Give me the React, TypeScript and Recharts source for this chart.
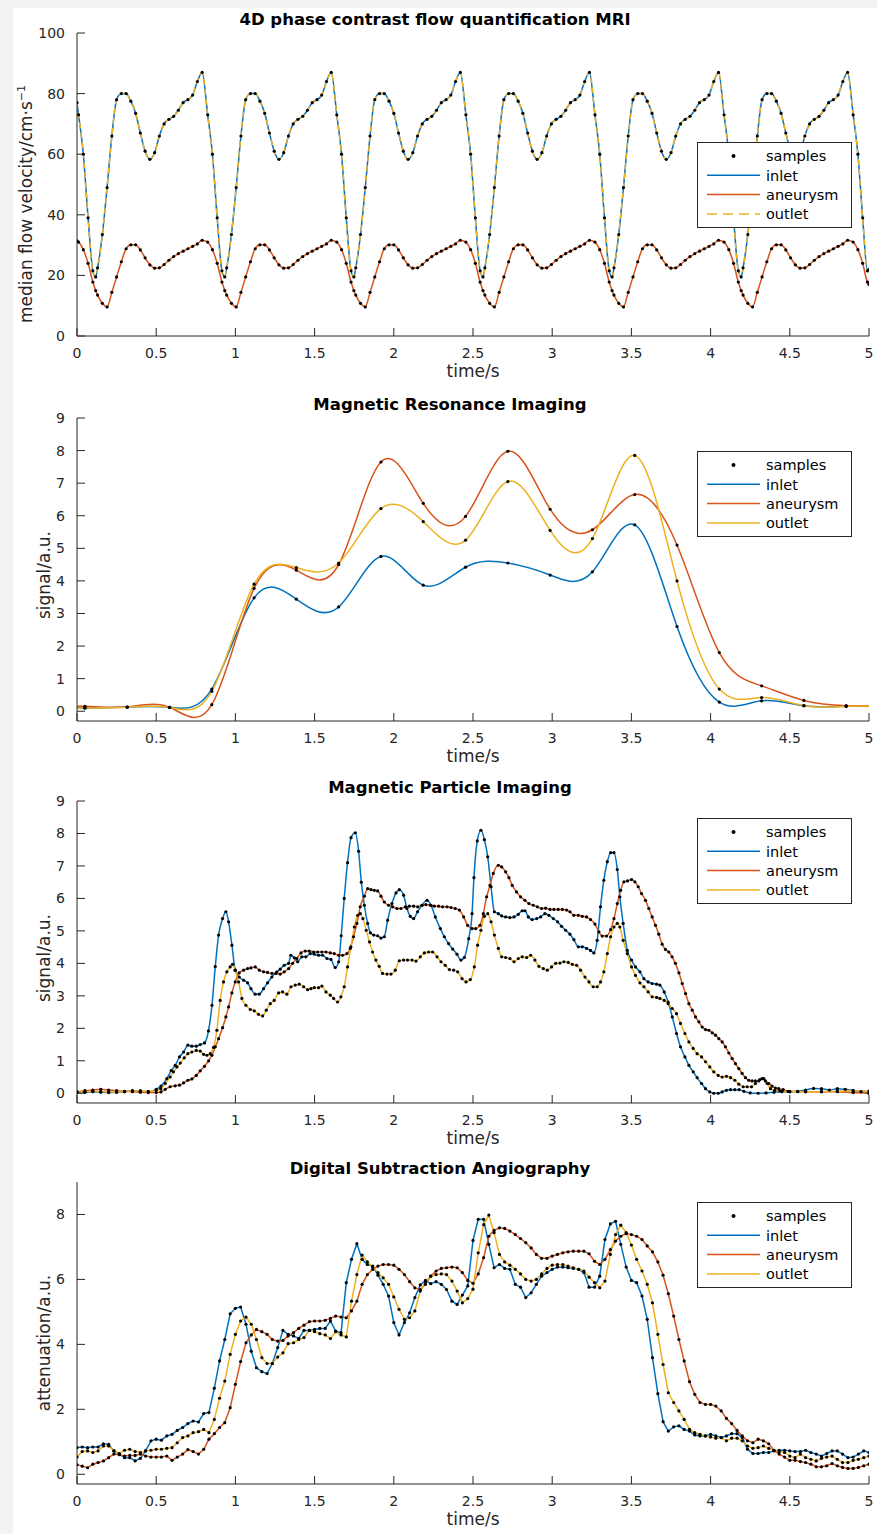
import React from 'react';
import { LineChart, Line, XAxis, YAxis } from 'recharts';

const FONT = '"DejaVu Sans", "Liberation Sans", sans-serif';
const INK = '#262626';
const BLUE = '#0072BD';
const RED = '#D95319';
const YELLOW = '#EDB120';
const W = 877;
const H = 1534;
const PLOT_LEFT = 77;
const RIGHT_GAP = 8;
const TOP_GAP = 20;
const XAXIS_H = 50;

const TIME_TICKS = [0, 0.5, 1, 1.5, 2, 2.5, 3, 3.5, 4, 4.5, 5];
const FLOW_TICKS = [0, 20, 40, 60, 80, 100];
const SIGNAL_TICKS = [0, 1, 2, 3, 4, 5, 6, 7, 8, 9];
const ATTEN_TICKS = [0, 2, 4, 6, 8];
const SERIES_NAMES = ['inlet', 'aneurysm', 'outlet'];

// ---------- Panel 1: 4D phase contrast flow quantification MRI ----------
const flowTime = [0,
  0.01, 0.04, 0.07, 0.1, 0.118, 0.13, 0.16, 0.19, 0.22, 0.25, 0.28, 0.31, 0.34, 0.37, 0.4, 0.43, 0.46, 0.49, 0.52, 0.55, 0.58, 0.61, 0.64, 0.67, 0.7, 0.73, 0.76, 0.79,
  0.825, 0.855, 0.885, 0.915, 0.933, 0.945, 0.975, 1.005, 1.035, 1.065, 1.095, 1.125, 1.155, 1.185, 1.215, 1.245, 1.275, 1.305, 1.335, 1.365, 1.395, 1.425, 1.455, 1.485, 1.515, 1.545, 1.575, 1.605,
  1.64, 1.67, 1.7, 1.73, 1.748, 1.76, 1.79, 1.82, 1.85, 1.88, 1.91, 1.94, 1.97, 2, 2.03, 2.06, 2.09, 2.12, 2.15, 2.18, 2.21, 2.24, 2.27, 2.3, 2.33, 2.36, 2.39, 2.42,
  2.455, 2.485, 2.515, 2.545, 2.563, 2.575, 2.605, 2.635, 2.665, 2.695, 2.725, 2.755, 2.785, 2.815, 2.845, 2.875, 2.905, 2.935, 2.965, 2.995, 3.025, 3.055, 3.085, 3.115, 3.145, 3.175, 3.205, 3.235,
  3.27, 3.3, 3.33, 3.36, 3.378, 3.39, 3.42, 3.45, 3.48, 3.51, 3.54, 3.57, 3.6, 3.63, 3.66, 3.69, 3.72, 3.75, 3.78, 3.81, 3.84, 3.87, 3.9, 3.93, 3.96, 3.99, 4.02, 4.05,
  4.085, 4.115, 4.145, 4.175, 4.193, 4.205, 4.235, 4.265, 4.295, 4.325, 4.355, 4.385, 4.415, 4.445, 4.475, 4.505, 4.535, 4.565, 4.595, 4.625, 4.655, 4.685, 4.715, 4.745, 4.775, 4.805, 4.835, 4.865,
  4.9, 4.93, 4.96, 4.99, 5];

const flowInlet = [77,
  73, 60, 39, 21.5, 19.5, 22.5, 33.5, 49, 66, 78, 80, 80, 77.5, 73.5, 67, 61, 58.3, 60.5, 66, 70, 71.5, 72.5, 74.5, 77, 78, 79.5, 84, 87,
  73, 60, 39, 21.5, 19.5, 22.5, 33.5, 49, 66, 78, 80, 80, 77.5, 73.5, 67, 61, 58.3, 60.5, 66, 70, 71.5, 72.5, 74.5, 77, 78, 79.5, 84, 87,
  73, 60, 39, 21.5, 19.5, 22.5, 33.5, 49, 66, 78, 80, 80, 77.5, 73.5, 67, 61, 58.3, 60.5, 66, 70, 71.5, 72.5, 74.5, 77, 78, 79.5, 84, 87,
  73, 60, 39, 21.5, 19.5, 22.5, 33.5, 49, 66, 78, 80, 80, 77.5, 73.5, 67, 61, 58.3, 60.5, 66, 70, 71.5, 72.5, 74.5, 77, 78, 79.5, 84, 87,
  73, 60, 39, 21.5, 19.5, 22.5, 33.5, 49, 66, 78, 80, 80, 77.5, 73.5, 67, 61, 58.3, 60.5, 66, 70, 71.5, 72.5, 74.5, 77, 78, 79.5, 84, 87,
  73, 60, 39, 21.5, 19.5, 22.5, 33.5, 49, 66, 78, 80, 80, 77.5, 73.5, 67, 61, 58.3, 60.5, 66, 70, 71.5, 72.5, 74.5, 77, 78, 79.5, 84, 87,
  73, 60, 39, 21.5, 22];

const flowAneurysm = [31.4,
  31, 28.5, 24, 17.8, 15, 13.5, 10.8, 9.6, 14.4, 19.5, 24.5, 28.8, 30.1, 30.1, 28.4, 25.8, 23.5, 22.4, 22.5, 23.6, 25, 26.2, 27.2, 28, 28.8, 29.6, 30.4, 31.6,
  31, 28.5, 24, 17.8, 15, 13.5, 10.8, 9.6, 14.4, 19.5, 24.5, 28.8, 30.1, 30.1, 28.4, 25.8, 23.5, 22.4, 22.5, 23.6, 25, 26.2, 27.2, 28, 28.8, 29.6, 30.4, 31.6,
  31, 28.5, 24, 17.8, 15, 13.5, 10.8, 9.6, 14.4, 19.5, 24.5, 28.8, 30.1, 30.1, 28.4, 25.8, 23.5, 22.4, 22.5, 23.6, 25, 26.2, 27.2, 28, 28.8, 29.6, 30.4, 31.6,
  31, 28.5, 24, 17.8, 15, 13.5, 10.8, 9.6, 14.4, 19.5, 24.5, 28.8, 30.1, 30.1, 28.4, 25.8, 23.5, 22.4, 22.5, 23.6, 25, 26.2, 27.2, 28, 28.8, 29.6, 30.4, 31.6,
  31, 28.5, 24, 17.8, 15, 13.5, 10.8, 9.6, 14.4, 19.5, 24.5, 28.8, 30.1, 30.1, 28.4, 25.8, 23.5, 22.4, 22.5, 23.6, 25, 26.2, 27.2, 28, 28.8, 29.6, 30.4, 31.6,
  31, 28.5, 24, 17.8, 15, 13.5, 10.8, 9.6, 14.4, 19.5, 24.5, 28.8, 30.1, 30.1, 28.4, 25.8, 23.5, 22.4, 22.5, 23.6, 25, 26.2, 27.2, 28, 28.8, 29.6, 30.4, 31.6,
  31, 28.5, 24, 17.8, 17];

const flowOutlet = flowInlet;

// ---------- Panel 2: Magnetic Resonance Imaging ----------
const mriTime = [0.05, 0.317, 0.584, 0.851, 1.118, 1.385, 1.652, 1.919, 2.186, 2.453, 2.72, 2.987, 3.254, 3.521, 3.788, 4.055, 4.322, 4.589, 4.856];
const mriInlet = [0.1, 0.13, 0.12, 0.68, 3.48, 3.44, 3.2, 4.75, 3.87, 4.42, 4.55, 4.18, 4.28, 5.72, 2.6, 0.28, 0.32, 0.17, 0.15];
const mriAneurysm = [0.15, 0.13, 0.12, 0.2, 3.77, 4.33, 4.5, 7.65, 6.38, 5.98, 7.98, 6.2, 5.57, 6.65, 5.1, 1.8, 0.78, 0.33, 0.17];
const mriOutlet = [0.1, 0.12, 0.12, 0.61, 3.9, 4.41, 4.55, 6.22, 5.82, 5.25, 7.05, 5.55, 5.3, 7.85, 4.0, 0.68, 0.42, 0.17, 0.15];
// curve continuation just outside the visible time range (one sample step each side)
const mriEdgeTime = [-0.217, 5.123];
const mriInletEdge = [0.1, 0.15];
const mriAneurysmEdge = [0.15, 0.17];
const mriOutletEdge = [0.1, 0.15];

// ---------- Panel 3: Magnetic Particle Imaging ----------
const mpiInlet: [number, number][] = [
  [0, 0.02], [0.05, 0.03], [0.1, 0.05], [0.15, 0.03], [0.2, 0.02], [0.25, 0.03], [0.3, 0.05], [0.35, 0.08], [0.4, 0.06], [0.45, 0.05],
  [0.5, 0.12], [0.53, 0.22], [0.567, 0.45], [0.595, 0.7], [0.62, 0.86], [0.647, 1.12], [0.673, 1.27], [0.7, 1.48], [0.725, 1.45], [0.753, 1.45],
  [0.778, 1.5], [0.805, 1.55], [0.83, 1.92], [0.852, 2.71], [0.873, 3.9], [0.894, 4.87], [0.919, 5.38], [0.94, 5.59], [0.957, 5.28], [0.978, 4.56],
  [0.999, 3.79], [1.024, 3.58], [1.052, 3.48], [1.077, 3.4], [1.098, 3.22], [1.125, 3.05], [1.15, 3.05], [1.178, 3.22], [1.203, 3.4], [1.23, 3.58],
  [1.262, 3.74], [1.283, 3.82], [1.308, 3.94], [1.336, 4.0], [1.35, 4.25], [1.372, 4.17], [1.393, 4.05], [1.42, 4.2], [1.445, 4.2], [1.473, 4.3],
  [1.498, 4.28], [1.525, 4.25], [1.55, 4.25], [1.578, 4.15], [1.603, 4.12], [1.63, 3.87], [1.652, 4.05], [1.668, 4.85], [1.687, 6.0], [1.708, 7.1],
  [1.73, 7.87], [1.757, 8.02], [1.778, 7.45], [1.795, 6.5], [1.814, 5.79], [1.835, 5.23], [1.852, 4.94], [1.873, 4.87], [1.898, 4.85], [1.919, 4.78],
  [1.94, 4.82], [1.961, 5.33], [1.988, 5.84], [2.014, 6.17], [2.035, 6.27], [2.062, 6.1], [2.083, 5.69], [2.104, 5.45], [2.125, 5.38], [2.15, 5.59],
  [2.178, 5.79], [2.21, 5.94], [2.235, 5.79], [2.262, 5.43], [2.294, 5.07], [2.319, 4.82], [2.346, 4.61], [2.372, 4.44], [2.399, 4.28], [2.424, 4.1],
  [2.445, 4.18], [2.473, 4.76], [2.494, 5.53], [2.506, 6.64], [2.527, 7.77], [2.55, 8.1], [2.572, 7.81], [2.593, 7.28], [2.614, 6.36], [2.635, 5.59],
  [2.66, 5.53], [2.681, 5.46], [2.706, 5.43], [2.733, 5.41], [2.759, 5.43], [2.786, 5.51], [2.811, 5.62], [2.828, 5.62], [2.849, 5.43], [2.874, 5.35],
  [2.902, 5.38], [2.927, 5.43], [2.954, 5.53], [2.979, 5.48], [3.007, 5.38], [3.034, 5.28], [3.059, 5.14], [3.085, 5.02], [3.112, 4.9], [3.137, 4.73],
  [3.165, 4.51], [3.19, 4.51], [3.217, 4.46], [3.242, 4.4], [3.263, 4.32], [3.284, 4.71], [3.305, 5.74], [3.326, 6.56], [3.348, 7.13], [3.369, 7.41],
  [3.39, 7.41], [3.411, 6.89], [3.427, 6.05], [3.448, 5.23], [3.474, 4.4], [3.501, 4.1], [3.526, 3.89], [3.554, 3.74], [3.579, 3.53], [3.606, 3.43],
  [3.631, 3.38], [3.659, 3.36], [3.68, 3.33], [3.707, 3.12], [3.732, 2.81], [3.758, 2.35], [3.785, 1.84], [3.81, 1.43], [3.838, 1.12], [3.863, 0.86],
  [3.89, 0.66], [3.915, 0.48], [3.943, 0.3], [3.968, 0.14], [3.995, 0.04], [4.02, 0], [4.048, 0], [4.073, 0.04], [4.1, 0.09], [4.126, 0.11],
  [4.153, 0.11], [4.18, 0.11], [4.21, 0.06], [4.25, 0.01], [4.3, 0], [4.35, 0.01], [4.4, 0.03], [4.45, 0.05], [4.5, 0.05], [4.55, 0.06],
  [4.6, 0.1], [4.65, 0.15], [4.7, 0.14], [4.75, 0.1], [4.8, 0.14], [4.85, 0.12], [4.9, 0.08], [4.95, 0.05], [5, 0]];

const mpiAneurysm: [number, number][] = [
  [0, 0.05], [0.05, 0.08], [0.1, 0.1], [0.15, 0.12], [0.2, 0.1], [0.25, 0.08], [0.3, 0.06], [0.35, 0.05], [0.4, 0.03], [0.45, 0.02],
  [0.5, 0.02], [0.53, 0.04], [0.557, 0.12], [0.588, 0.2], [0.62, 0.23], [0.647, 0.25], [0.673, 0.32], [0.7, 0.4], [0.725, 0.44], [0.753, 0.55],
  [0.778, 0.69], [0.805, 0.83], [0.831, 1.0], [0.852, 1.17], [0.873, 1.43], [0.894, 1.68], [0.919, 2.02], [0.94, 2.35], [0.957, 2.66], [0.978, 3.09],
  [0.999, 3.43], [1.024, 3.71], [1.052, 3.79], [1.077, 3.84], [1.098, 3.86], [1.125, 3.89], [1.151, 3.79], [1.178, 3.74], [1.203, 3.72], [1.231, 3.69],
  [1.256, 3.69], [1.283, 3.67], [1.308, 3.74], [1.336, 3.84], [1.361, 4.0], [1.388, 4.15], [1.414, 4.32], [1.441, 4.38], [1.466, 4.38], [1.494, 4.35],
  [1.519, 4.35], [1.546, 4.35], [1.572, 4.35], [1.599, 4.32], [1.624, 4.3], [1.652, 4.25], [1.677, 4.25], [1.704, 4.3], [1.725, 4.46], [1.746, 4.82],
  [1.767, 5.23], [1.788, 5.74], [1.814, 6.07], [1.835, 6.3], [1.856, 6.27], [1.877, 6.25], [1.898, 6.23], [1.919, 6.07], [1.94, 5.89], [1.967, 5.79],
  [1.993, 5.74], [2.02, 5.69], [2.045, 5.69], [2.073, 5.74], [2.098, 5.76], [2.125, 5.76], [2.151, 5.74], [2.178, 5.79], [2.203, 5.81], [2.231, 5.79],
  [2.256, 5.76], [2.283, 5.76], [2.308, 5.74], [2.336, 5.74], [2.361, 5.72], [2.388, 5.69], [2.414, 5.64], [2.441, 5.43], [2.466, 5.17], [2.494, 5.07],
  [2.517, 5.07], [2.544, 5.17], [2.565, 5.53], [2.586, 6.05], [2.607, 6.4], [2.628, 6.77], [2.66, 7.02], [2.681, 6.97], [2.706, 6.82], [2.727, 6.64],
  [2.748, 6.4], [2.775, 6.2], [2.8, 6.05], [2.828, 5.94], [2.853, 5.84], [2.881, 5.79], [2.906, 5.74], [2.933, 5.69], [2.958, 5.7], [2.986, 5.66],
  [3.011, 5.66], [3.038, 5.66], [3.064, 5.66], [3.091, 5.64], [3.112, 5.59], [3.137, 5.48], [3.165, 5.48], [3.19, 5.45], [3.217, 5.43], [3.242, 5.35],
  [3.27, 5.21], [3.295, 4.97], [3.316, 4.84], [3.343, 4.84], [3.369, 5.04], [3.39, 5.38], [3.411, 5.84], [3.432, 6.25], [3.453, 6.51], [3.476, 6.54],
  [3.501, 6.58], [3.522, 6.51], [3.543, 6.36], [3.564, 6.15], [3.589, 5.94], [3.61, 5.69], [3.631, 5.43], [3.652, 5.17], [3.673, 4.9], [3.694, 4.59],
  [3.715, 4.43], [3.736, 4.35], [3.757, 4.2], [3.778, 4.0], [3.8, 3.71], [3.821, 3.38], [3.842, 3.07], [3.863, 2.76], [3.884, 2.56], [3.905, 2.35],
  [3.926, 2.2], [3.947, 2.04], [3.968, 1.96], [3.989, 1.94], [4.01, 1.86], [4.031, 1.79], [4.052, 1.68], [4.073, 1.58], [4.094, 1.43], [4.115, 1.24],
  [4.136, 1.07], [4.157, 0.91], [4.178, 0.76], [4.199, 0.61], [4.22, 0.48], [4.241, 0.4], [4.262, 0.38], [4.283, 0.38], [4.304, 0.38], [4.325, 0.45],
  [4.346, 0.38], [4.367, 0.3], [4.388, 0.22], [4.409, 0.16], [4.43, 0.14], [4.458, 0.11], [4.489, 0.06], [4.55, 0.05], [4.6, 0.05], [4.7, 0.05],
  [4.8, 0.05], [4.9, 0.02], [5, 0]];

const mpiOutlet: [number, number][] = [
  [0, 0.03], [0.05, 0.05], [0.1, 0.06], [0.15, 0.05], [0.2, 0.04], [0.25, 0.04], [0.3, 0.05], [0.35, 0.07], [0.4, 0.08], [0.45, 0.05],
  [0.5, 0.09], [0.529, 0.14], [0.557, 0.3], [0.588, 0.5], [0.609, 0.66], [0.631, 0.81], [0.652, 0.93], [0.677, 1.09], [0.7, 1.22], [0.725, 1.27],
  [0.753, 1.32], [0.778, 1.3], [0.799, 1.2], [0.82, 1.17], [0.841, 1.22], [0.862, 1.41], [0.883, 1.94], [0.904, 2.86], [0.925, 3.43], [0.946, 3.74],
  [0.967, 3.89], [0.982, 3.97], [0.999, 3.79], [1.02, 3.43], [1.041, 2.92], [1.066, 2.71], [1.094, 2.58], [1.119, 2.54], [1.146, 2.43], [1.172, 2.38],
  [1.195, 2.56], [1.22, 2.76], [1.245, 2.86], [1.273, 3.09], [1.298, 3.12], [1.325, 3.05], [1.351, 3.28], [1.378, 3.33], [1.403, 3.36], [1.431, 3.28],
  [1.456, 3.19], [1.477, 3.22], [1.498, 3.25], [1.525, 3.25], [1.546, 3.3], [1.572, 3.12], [1.599, 3.02], [1.62, 2.92], [1.645, 2.81], [1.666, 2.97],
  [1.687, 3.28], [1.708, 3.89], [1.729, 4.51], [1.751, 5.12], [1.772, 5.48], [1.788, 5.53], [1.805, 5.38], [1.826, 5.02], [1.847, 4.66], [1.866, 4.35],
  [1.887, 4.1], [1.908, 3.91], [1.929, 3.69], [1.957, 3.67], [1.982, 3.67], [2.009, 3.79], [2.035, 4.08], [2.062, 4.1], [2.087, 4.1], [2.115, 4.1],
  [2.14, 4.07], [2.167, 4.2], [2.193, 4.32], [2.22, 4.35], [2.245, 4.35], [2.273, 4.2], [2.298, 4.05], [2.325, 3.94], [2.351, 3.81], [2.378, 3.79],
  [2.403, 3.74], [2.431, 3.53], [2.456, 3.43], [2.483, 3.5], [2.508, 3.89], [2.529, 4.56], [2.55, 5.02], [2.572, 5.45], [2.593, 5.53], [2.614, 5.28],
  [2.635, 4.87], [2.66, 4.46], [2.681, 4.2], [2.706, 4.18], [2.733, 4.15], [2.759, 4.05], [2.786, 4.15], [2.811, 4.2], [2.839, 4.18], [2.864, 4.25],
  [2.891, 4.1], [2.916, 3.91], [2.944, 3.84], [2.969, 3.79], [2.996, 3.89], [3.022, 4.0], [3.049, 4.01], [3.074, 4.05], [3.101, 4.03], [3.127, 3.97],
  [3.154, 3.94], [3.179, 3.79], [3.207, 3.58], [3.232, 3.43], [3.259, 3.28], [3.284, 3.28], [3.305, 3.43], [3.326, 3.74], [3.348, 4.3], [3.369, 4.82],
  [3.39, 5.12], [3.411, 5.23], [3.427, 5.12], [3.448, 4.71], [3.474, 4.3], [3.501, 3.89], [3.526, 3.63], [3.554, 3.4], [3.579, 3.28], [3.606, 3.12],
  [3.631, 2.97], [3.659, 2.95], [3.68, 2.92], [3.707, 2.86], [3.732, 2.76], [3.758, 2.61], [3.785, 2.45], [3.81, 2.15], [3.838, 1.84], [3.863, 1.58],
  [3.89, 1.38], [3.915, 1.22], [3.943, 1.12], [3.968, 0.97], [3.995, 0.81], [4.02, 0.66], [4.048, 0.55], [4.073, 0.5], [4.1, 0.52], [4.126, 0.48],
  [4.153, 0.4], [4.178, 0.28], [4.206, 0.2], [4.231, 0.2], [4.258, 0.2], [4.283, 0.3], [4.311, 0.42], [4.336, 0.45], [4.357, 0.3], [4.378, 0.14],
  [4.405, 0.09], [4.437, 0.07], [4.5, 0.05], [4.6, 0.05], [4.7, 0.05], [4.8, 0.06], [4.9, 0.08], [5, 0.07]];

// ---------- Panel 4: Digital Subtraction Angiography ----------
const dsaTime = [
  0, 0.033, 0.067, 0.1, 0.133, 0.167, 0.2, 0.233, 0.267, 0.3,
  0.333, 0.367, 0.4, 0.433, 0.467, 0.5, 0.533, 0.567, 0.6, 0.633,
  0.667, 0.7, 0.733, 0.767, 0.8, 0.833, 0.867, 0.9, 0.933, 0.967,
  1, 1.033, 1.067, 1.1, 1.133, 1.167, 1.2, 1.233, 1.267, 1.3,
  1.333, 1.367, 1.4, 1.433, 1.467, 1.5, 1.533, 1.567, 1.6, 1.633,
  1.667, 1.7, 1.733, 1.767, 1.8, 1.833, 1.867, 1.9, 1.933, 1.967,
  2, 2.033, 2.067, 2.1, 2.133, 2.167, 2.2, 2.233, 2.267, 2.3,
  2.333, 2.367, 2.4, 2.433, 2.467, 2.5, 2.533, 2.567, 2.6, 2.633,
  2.667, 2.7, 2.733, 2.767, 2.8, 2.833, 2.867, 2.9, 2.933, 2.967,
  3, 3.033, 3.067, 3.1, 3.133, 3.167, 3.2, 3.233, 3.267, 3.3,
  3.333, 3.367, 3.4, 3.433, 3.467, 3.5, 3.533, 3.567, 3.6, 3.633,
  3.667, 3.7, 3.733, 3.767, 3.8, 3.833, 3.867, 3.9, 3.933, 3.967,
  4, 4.033, 4.067, 4.1, 4.133, 4.167, 4.2, 4.233, 4.267, 4.3,
  4.333, 4.367, 4.4, 4.433, 4.467, 4.5, 4.533, 4.567, 4.6, 4.633,
  4.667, 4.7, 4.733, 4.767, 4.8, 4.833, 4.867, 4.9, 4.933, 4.967,
  5];

const dsaInlet = [
  0.82, 0.84, 0.82, 0.84, 0.84, 0.94, 0.92, 0.72, 0.62, 0.51,
  0.51, 0.41, 0.49, 0.72, 1.03, 1.08, 1.05, 1.18, 1.23, 1.35,
  1.44, 1.56, 1.64, 1.61, 1.87, 1.9, 2.65, 3.49, 4.15, 4.94,
  5.11, 5.15, 4.62, 3.79, 3.28, 3.16, 3.1, 3.41, 3.9, 4.43,
  4.31, 4.26, 4.18, 4.43, 4.43, 4.46, 4.49, 4.49, 4.72, 4.41,
  4.36, 5.9, 6.62, 7.1, 6.62, 6.46, 6.41, 6.13, 5.85, 5.49,
  4.67, 4.29, 4.67, 4.97, 5.44, 5.83, 5.97, 5.87, 5.93, 5.85,
  5.69, 5.33, 5.23, 5.52, 5.8, 7.2, 7.85, 7.85, 7.08, 6.36,
  6.46, 6.34, 6.31, 5.85, 5.76, 5.44, 5.59, 5.85, 6.1, 6.21,
  6.31, 6.38, 6.38, 6.36, 6.34, 6.31, 6.21, 5.76, 5.76, 6.1,
  7.23, 7.71, 7.79, 7.08, 6.38, 5.97, 5.9, 5.49, 4.77, 3.59,
  2.48, 1.62, 1.33, 1.46, 1.49, 1.38, 1.33, 1.21, 1.18, 1.18,
  1.23, 1.18, 1.13, 1.18, 1.25, 1.25, 1.13, 0.77, 0.64, 0.64,
  0.67, 0.67, 0.72, 0.74, 0.74, 0.72, 0.7, 0.7, 0.74, 0.67,
  0.62, 0.56, 0.64, 0.72, 0.72, 0.62, 0.51, 0.53, 0.62, 0.72,
  0.67];

const dsaAneurysm = [
  0.29, 0.25, 0.2, 0.31, 0.36, 0.41, 0.51, 0.62, 0.6, 0.56,
  0.58, 0.58, 0.62, 0.56, 0.53, 0.53, 0.53, 0.56, 0.43, 0.53,
  0.62, 0.76, 0.7, 0.62, 0.77, 1.08, 1.25, 1.44, 1.59, 2.05,
  2.77, 3.47, 4.05, 4.29, 4.46, 4.39, 4.31, 4.15, 4.1, 4.12,
  4.26, 4.36, 4.49, 4.59, 4.7, 4.72, 4.72, 4.74, 4.8, 4.87,
  4.84, 4.82, 5.03, 5.33, 5.85, 6.15, 6.31, 6.41, 6.46, 6.46,
  6.44, 6.31, 6.15, 5.93, 5.74, 5.69, 5.85, 6.1, 6.26, 6.34,
  6.36, 6.38, 6.36, 6.21, 5.97, 5.88, 6.17, 6.67, 7.33, 7.51,
  7.59, 7.57, 7.49, 7.38, 7.26, 7.13, 6.97, 6.77, 6.65, 6.65,
  6.72, 6.77, 6.82, 6.85, 6.87, 6.87, 6.87, 6.79, 6.56, 6.46,
  6.62, 6.92, 7.18, 7.33, 7.41, 7.38, 7.33, 7.23, 7.03, 6.85,
  6.54, 6.13, 5.56, 4.87, 4.15, 3.49, 2.85, 2.46, 2.21, 2.15,
  2.15, 2.1, 1.95, 1.72, 1.56, 1.35, 1.18, 1.03, 0.97, 1.08,
  1.03, 0.94, 0.74, 0.62, 0.53, 0.43, 0.43, 0.39, 0.36, 0.31,
  0.23, 0.23, 0.26, 0.33, 0.26, 0.21, 0.18, 0.18, 0.21, 0.26,
  0.31];

const dsaOutlet = [
  0.53, 0.7, 0.72, 0.67, 0.72, 0.87, 0.87, 0.72, 0.64, 0.74,
  0.77, 0.7, 0.67, 0.72, 0.74, 0.77, 0.77, 0.8, 0.82, 0.97,
  1.13, 1.18, 1.28, 1.31, 1.38, 1.28, 1.69, 2.34, 2.87, 3.69,
  4.31, 4.72, 4.84, 4.62, 4.15, 3.59, 3.41, 3.41, 3.61, 3.74,
  4.02, 4.05, 4.15, 4.21, 4.43, 4.39, 4.33, 4.29, 4.18, 4.39,
  4.29, 4.23, 5.33, 6.15, 6.75, 6.54, 6.38, 6.21, 6.05, 5.85,
  5.46, 5.08, 4.77, 4.82, 5.03, 5.64, 5.93, 6.1, 6.15, 6.17,
  6.15, 5.95, 5.64, 5.28, 5.41, 5.7, 6.82, 7.69, 7.98, 7.44,
  6.77, 6.54, 6.44, 6.31, 6.17, 6.0, 5.95, 6.0, 6.17, 6.34,
  6.44, 6.46, 6.46, 6.41, 6.36, 6.31, 6.26, 6.07, 5.9, 5.74,
  5.95, 6.77, 7.38, 7.67, 7.44, 7.06, 6.62, 6.26, 5.85, 5.28,
  4.31, 3.38, 2.51, 2.21, 1.95, 1.69, 1.38, 1.28, 1.23, 1.18,
  1.15, 1.11, 1.13, 1.03, 1.11, 1.11, 1.03, 0.87, 0.8, 0.82,
  0.87, 0.8, 0.74, 0.7, 0.67, 0.56, 0.51, 0.62, 0.51, 0.46,
  0.41, 0.49, 0.53, 0.56, 0.46, 0.36, 0.36, 0.43, 0.46, 0.51,
  0.56];

// ---------- helpers ----------
type Pt = { t: number; v: number };
const zip = (t: number[], v: number[]): Pt[] => t.map((x, i) => ({ t: x, v: v[i] }));
const fromPairs = (p: [number, number][]): Pt[] => p.map(([t, v]) => ({ t, v }));
const withEdges = (t: number[], v: number[], et: number[], ev: number[]): Pt[] =>
  [{ t: et[0], v: ev[0] }, ...zip(t, v), { t: et[1], v: ev[1] }];

type Series = { name: string; color: string; data: Pt[]; samples?: Pt[]; dashed?: boolean };

const renderDot = (p: any) => {
  const { cx, cy, index } = p;
  if (cx == null || cy == null || Number.isNaN(cx) || Number.isNaN(cy)) return <g key={`n${index}`} />;
  return <circle key={`d${index}`} cx={cx} cy={cy} r={1.6} fill="#000" />;
};

type PanelProps = {
  plotTop: number;
  plotH: number;
  yDomain: [number, number];
  yTicks: number[];
  curve: 'monotone' | 'natural' | 'linear';
  series: Series[];
};

function Panel({ plotTop, plotH, yDomain, yTicks, curve, series }: PanelProps) {
  const tickStyle = { fill: INK, fontSize: 14, fontFamily: FONT };
  return (
    <div style={{ position: 'absolute', left: 0, top: plotTop - TOP_GAP }}>
      <LineChart
        width={W}
        height={TOP_GAP + plotH + XAXIS_H}
        margin={{ top: TOP_GAP, right: RIGHT_GAP, bottom: 0, left: 0 }}
      >
        <XAxis xAxisId="b" dataKey="t" type="number" domain={[0, 5]} ticks={TIME_TICKS} interval={0}
          allowDataOverflow height={XAXIS_H} tickSize={-8} tickMargin={20} stroke={INK} tick={tickStyle} />
        <XAxis xAxisId="t" orientation="top" dataKey="t" type="number" domain={[0, 5]} ticks={TIME_TICKS} interval={0}
          allowDataOverflow height={0} tickSize={-8} tick={false} stroke={INK} />
        <YAxis yAxisId="l" type="number" domain={yDomain} ticks={yTicks} interval={0} allowDataOverflow
          width={PLOT_LEFT} tickSize={-8} tickMargin={20} stroke={INK} tick={tickStyle} />
        <YAxis yAxisId="r" orientation="right" type="number" domain={yDomain} ticks={yTicks} interval={0}
          allowDataOverflow width={0} tickSize={-8} tick={false} stroke={INK} />
        {series.map((s) => (
          <Line key={s.name} xAxisId="b" yAxisId="l" data={s.data} dataKey="v" name={s.name} type={curve}
            stroke={s.color} strokeWidth={1.5} strokeDasharray={s.dashed ? '6 4' : undefined}
            dot={false} activeDot={false} isAnimationActive={false} />
        ))}
        {series.filter((s) => s.samples).map((s) => (
          <Line key={`samples-${s.name}`} xAxisId="t" yAxisId="r" data={s.samples} dataKey="v" name="samples"
            stroke="none" dot={renderDot} activeDot={false} isAnimationActive={false} />
        ))}
      </LineChart>
    </div>
  );
}

function LegendBox({ top, dashed }: { top: number; dashed?: boolean }) {
  const left = 697;
  const rows = [
    { label: 'samples', color: '' },
    { label: SERIES_NAMES[0], color: BLUE },
    { label: SERIES_NAMES[1], color: RED },
    { label: SERIES_NAMES[2], color: YELLOW, dash: dashed },
  ];
  return (
    <g>
      <rect x={left + 0.5} y={top + 0.5} width={154} height={85} fill="#fff" stroke={INK} strokeWidth={1} />
      {rows.map((r, i) => {
        const cy = top + 14 + i * 19.3;
        return (
          <g key={r.label}>
            {r.color ? (
              <line x1={707} x2={760} y1={cy} y2={cy} stroke={r.color} strokeWidth={1.5}
                strokeDasharray={r.dash ? '10 6' : undefined} />
            ) : (
              <circle cx={733.5} cy={cy} r={2} fill="#000" />
            )}
            <text x={766} y={cy} dy="0.36em" fontSize={14.5} fontFamily={FONT} fill="#000">{r.label}</text>
          </g>
        );
      })}
    </g>
  );
}

const panels = [
  {
    plotTop: 33, plotH: 303, yDomain: [0, 100] as [number, number], yTicks: FLOW_TICKS, curve: 'monotone' as const,
    title: '4D phase contrast flow quantification MRI', titleX: 435, ylabel: 'median flow velocity/cm·s', sup: true,
    ylabelX: 32, ylabelY: 204, legendTop: 142, dashed: true,
    series: [
      { name: 'inlet', color: BLUE, data: zip(flowTime, flowInlet), samples: zip(flowTime, flowInlet) },
      { name: 'aneurysm', color: RED, data: zip(flowTime, flowAneurysm), samples: zip(flowTime, flowAneurysm) },
      { name: 'outlet', color: YELLOW, data: zip(flowTime, flowOutlet), dashed: true },
    ],
  },
  {
    plotTop: 418, plotH: 303, yDomain: [-0.3, 9] as [number, number], yTicks: SIGNAL_TICKS, curve: 'natural' as const,
    title: 'Magnetic Resonance Imaging', titleX: 450, ylabel: 'signal/a.u.', sup: false,
    ylabelX: 50, ylabelY: 575, legendTop: 451, dashed: false,
    series: [
      { name: 'inlet', color: BLUE, data: withEdges(mriTime, mriInlet, mriEdgeTime, mriInletEdge), samples: zip(mriTime, mriInlet) },
      { name: 'aneurysm', color: RED, data: withEdges(mriTime, mriAneurysm, mriEdgeTime, mriAneurysmEdge), samples: zip(mriTime, mriAneurysm) },
      { name: 'outlet', color: YELLOW, data: withEdges(mriTime, mriOutlet, mriEdgeTime, mriOutletEdge), samples: zip(mriTime, mriOutlet) },
    ],
  },
  {
    plotTop: 801, plotH: 302, yDomain: [-0.3, 9] as [number, number], yTicks: SIGNAL_TICKS, curve: 'monotone' as const,
    title: 'Magnetic Particle Imaging', titleX: 450, ylabel: 'signal/a.u.', sup: false,
    ylabelX: 50, ylabelY: 958, legendTop: 818, dashed: false,
    series: [
      { name: 'inlet', color: BLUE, data: fromPairs(mpiInlet), samples: fromPairs(mpiInlet) },
      { name: 'aneurysm', color: RED, data: fromPairs(mpiAneurysm), samples: fromPairs(mpiAneurysm) },
      { name: 'outlet', color: YELLOW, data: fromPairs(mpiOutlet), samples: fromPairs(mpiOutlet) },
    ],
  },
  {
    plotTop: 1182, plotH: 302, yDomain: [-0.3, 9] as [number, number], yTicks: ATTEN_TICKS, curve: 'linear' as const,
    title: 'Digital Subtraction Angiography', titleX: 440, ylabel: 'attenuation/a.u.', sup: false,
    ylabelX: 50, ylabelY: 1343, legendTop: 1202, dashed: false,
    series: [
      { name: 'inlet', color: BLUE, data: zip(dsaTime, dsaInlet), samples: zip(dsaTime, dsaInlet) },
      { name: 'aneurysm', color: RED, data: zip(dsaTime, dsaAneurysm), samples: zip(dsaTime, dsaAneurysm) },
      { name: 'outlet', color: YELLOW, data: zip(dsaTime, dsaOutlet), samples: zip(dsaTime, dsaOutlet) },
    ],
  },
];

export default function App() {
  return (
    <div style={{ position: 'absolute', left: 0, top: 0, width: W, height: H, overflow: 'hidden', background: '#fff' }}>
      <div style={{ position: 'absolute', left: 0, top: 0, width: 13, height: H, background: '#f3f3f3' }} />
      <div style={{ position: 'absolute', left: 0, top: 0, width: W, height: 8, background: '#f3f3f3' }} />
      {panels.map((p) => (
        <Panel key={p.title} plotTop={p.plotTop} plotH={p.plotH} yDomain={p.yDomain} yTicks={p.yTicks}
          curve={p.curve} series={p.series} />
      ))}
      <svg width={W} height={H} style={{ position: 'absolute', left: 0, top: 0, pointerEvents: 'none' }}>
        {panels.map((p) => {
          const plotBottom = p.plotTop + p.plotH;
          return (
            <g key={p.title}>
              <text x={p.titleX} y={p.plotTop - 8} textAnchor="middle" fontSize={16.5} fontWeight="bold"
                fontFamily={FONT} fill="#000">{p.title}</text>
              <text x={473} y={plotBottom + 41} textAnchor="middle" fontSize={17} fontFamily={FONT} fill={INK}>time/s</text>
              <text transform={`translate(${p.ylabelX},${p.ylabelY}) rotate(-90)`} textAnchor="middle" fontSize={17}
                fontFamily={FONT} fill={INK}>
                {p.ylabel}
                {p.sup ? <tspan fontSize={11} dy={-7}>−1</tspan> : null}
              </text>
              <LegendBox top={p.legendTop} dashed={p.dashed} />
            </g>
          );
        })}
      </svg>
    </div>
  );
}
